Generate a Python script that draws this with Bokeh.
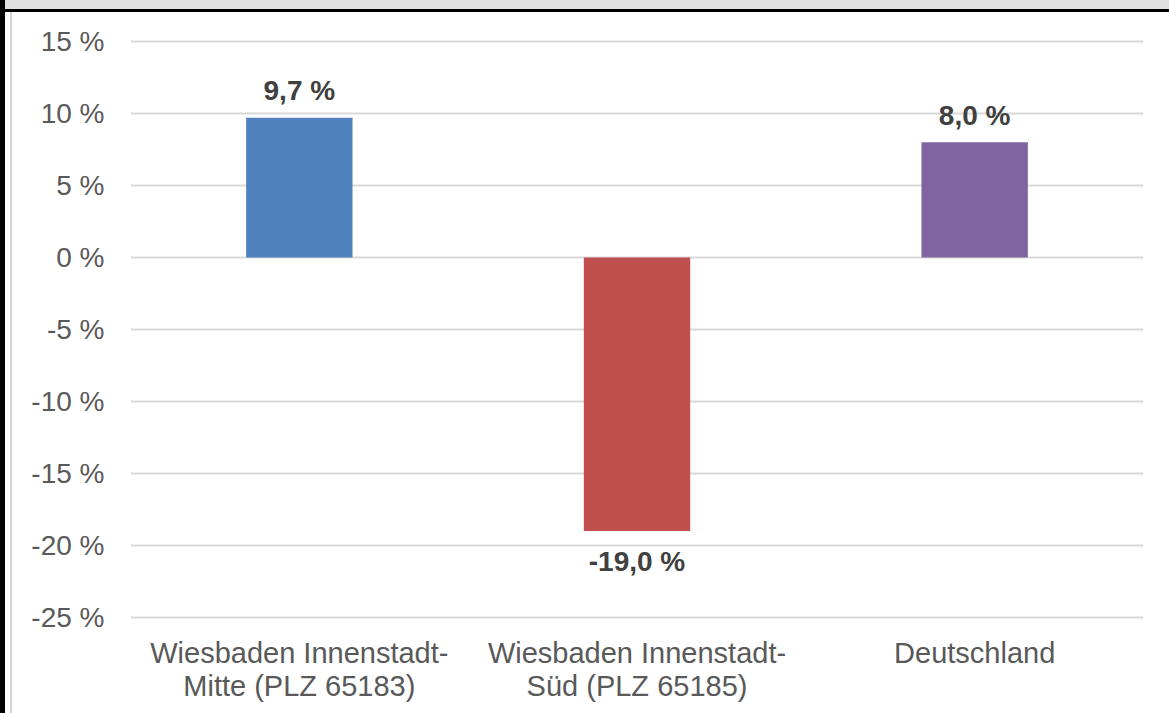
from bokeh.plotting import figure
from bokeh.models import (ColumnDataSource, FactorRange, Range1d, FixedTicker,
                          CustomJSTickFormatter)
from bokeh.core.properties import value
from bokeh.embed import file_html
from bokeh.resources import INLINE

# ---- data ----
categories = ["Wiesbaden Innenstadt-Mitte (PLZ 65183)",
              "Wiesbaden Innenstadt-Süd (PLZ 65185)",
              "Deutschland"]
label_line1 = ["Wiesbaden Innenstadt-", "Wiesbaden Innenstadt-", "Deutschland"]
label_line2 = ["Mitte (PLZ 65183)", "Süd (PLZ 65185)", ""]
values = [9.7, -19.0, 8.0]
bar_colors = ["#4F81BD", "#C0504D", "#8064A2"]
y_ticks = [-25, -20, -15, -10, -5, 0, 5, 10, 15]

Y_MIN, Y_MAX = -25, 15

# ---- layout (pixels) ----
W, H = 1169, 713
AXIS_TOP_PX, AXIS_BOTTOM_PX = 41, 617          # positions of 15 % and -25 %
FRAME_TOP = 33
px_per_unit = (AXIS_BOTTOM_PX - AXIS_TOP_PX) / (Y_MAX - Y_MIN)
y_end = Y_MAX + (AXIS_TOP_PX - FRAME_TOP) / px_per_unit
y_start = Y_MIN - (H - AXIS_BOTTOM_PX) / px_per_unit

labels = [f"{v:.1f}".replace(".", ",") + " %" for v in values]
offsets = [-27 if v >= 0 else 30 for v in values]

src = ColumnDataSource(dict(cat=categories, val=values, color=bar_colors,
                            label=labels, off=offsets))
xsrc = ColumnDataSource(dict(cat=categories, base=[Y_MIN] * len(categories),
                             l1=label_line1, l2=label_line2))

FONT = "Liberation Sans"

p = figure(width=W, height=H, output_backend="svg", toolbar_location=None,
           x_range=FactorRange(factors=categories, range_padding=0),
           y_range=Range1d(y_start, y_end),
           min_border_left=130, min_border_right=26,
           min_border_top=FRAME_TOP, min_border_bottom=0)

p.outline_line_color = None
p.background_fill_color = "white"
p.border_fill_color = None
p.styles = {
    "background-color": "white",
    "box-shadow": ("inset 5px 0 0 0 #000000, "
                   "inset 0 9px 0 0 #e0e0e0, "
                   "inset 0 12px 0 0 #000000, "
                   "inset 10px 0 0 0 #ffffff, "
                   "inset 12px 0 0 0 #d4d4d4"),
}

# grid
p.xgrid.grid_line_color = None
p.ygrid.grid_line_color = "#d9d9d9"
p.ygrid.grid_line_width = 2
p.ygrid.ticker = FixedTicker(ticks=y_ticks)

p.vbar(x="cat", top="val", bottom=0, width=0.315, color="color",
       line_color=None, source=src)

p.text(x="cat", y="val", text="label", source=src, y_offset="off",
       text_align="center", text_baseline="alphabetic",
       text_font=value(FONT), text_font_style="bold",
       text_font_size="28px", text_color="#404040")

# category labels (two lines)
p.text(x="cat", y="base", text="l1", source=xsrc, y_offset=35,
       text_align="center", text_baseline="alphabetic",
       text_font=value(FONT), text_font_size="29px", text_color="#595959")
p.text(x="cat", y="base", text="l2", source=xsrc, y_offset=68,
       text_align="center", text_baseline="alphabetic",
       text_font=value(FONT), text_font_size="29px", text_color="#595959")

# y axis
p.yaxis.ticker = FixedTicker(ticks=y_ticks)
p.yaxis.formatter = CustomJSTickFormatter(code="return tick + ' %';")
p.yaxis.axis_line_color = None
p.yaxis.major_tick_line_color = None
p.yaxis.minor_tick_line_color = None
p.yaxis.major_tick_out = 0
p.yaxis.major_label_standoff = 26
p.yaxis.major_label_text_font = FONT
p.yaxis.major_label_text_font_size = "28px"
p.yaxis.major_label_text_color = "#595959"

p.xaxis.visible = False

open("out.html", "w").write(file_html(p, INLINE))
